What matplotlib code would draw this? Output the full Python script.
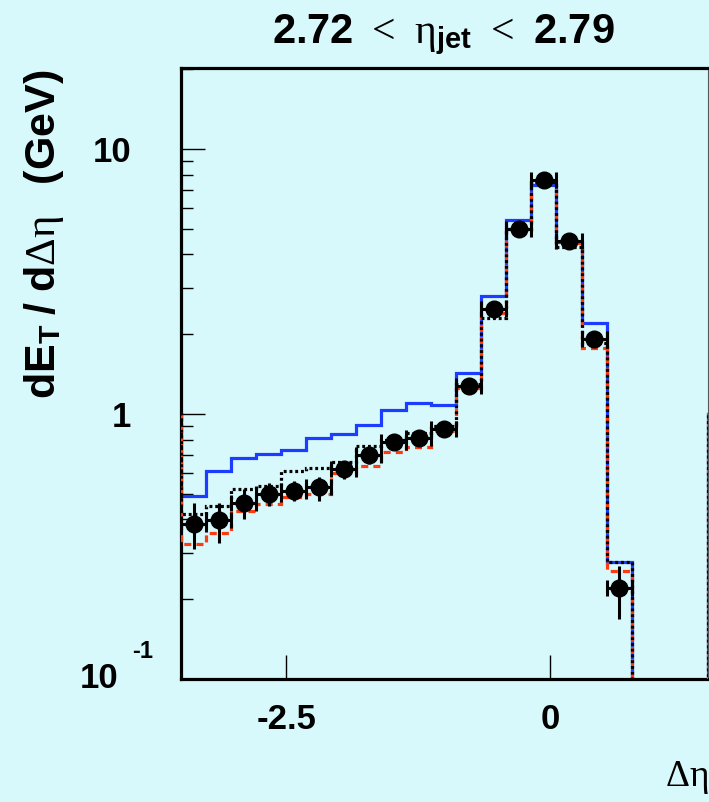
import numpy as np
import matplotlib.pyplot as plt
from matplotlib.ticker import FixedLocator, LogLocator, NullFormatter

plt.rcParams["mathtext.fontset"] = "custom"
plt.rcParams["mathtext.rm"] = "Liberation Serif"
plt.rcParams["mathtext.it"] = "Liberation Serif:italic"
plt.rcParams["mathtext.bf"] = "Liberation Sans:bold"

# bin edges in delta eta (18 bins)
edges = [-3.5, -3.2625, -3.025, -2.7875, -2.55, -2.3125, -2.075, -1.8375, -1.6,
         -1.3625, -1.125, -0.8875, -0.65, -0.4125, -0.175, 0.0625, 0.3, 0.5375, 0.775]

# data points and errors
data = [0.383, 0.397, 0.461, 0.498, 0.512, 0.532, 0.618, 0.700, 0.784, 0.814, 0.880,
        1.275, 2.48, 4.98, 7.62, 4.50, 1.92, 0.22]
data_lo = [0.310, 0.327, 0.400, 0.450, 0.470, 0.470, 0.570, 0.650, 0.740, 0.770, 0.840,
           1.220, 2.30, 4.80, 7.30, 4.20, 1.85, 0.168]
data_hi = [0.460, 0.460, 0.520, 0.550, 0.560, 0.580, 0.660, 0.750, 0.830, 0.860, 0.920,
           1.330, 2.60, 5.20, 7.90, 4.70, 2.00, 0.267]

# model histograms
blue = [0.490, 0.609, 0.680, 0.704, 0.729, 0.810, 0.843, 0.906, 1.033, 1.098, 1.078,
        1.425, 2.79, 5.38, 7.30, 4.45, 2.20, 0.276]
red = [0.323, 0.355, 0.430, 0.459, 0.486, 0.500, 0.600, 0.636, 0.721, 0.750, 0.863,
       1.250, 2.40, 5.00, 7.50, 4.40, 1.78, 0.256]
black = [0.420, 0.450, 0.520, 0.535, 0.609, 0.624, 0.659, 0.757, 0.800, 0.850, 0.900,
         1.300, 2.30, 5.00, 7.50, 4.25, 1.85, 0.276]

# neighbouring bins outside the frame (histograms continue past the axis range)
outer_level = 1.0
gap_level = 1e-3
far_edge = 1.5

bg = "#d8f9fb"
fig = plt.figure(figsize=(7.09, 8.02), dpi=100, facecolor=bg)
ax = fig.add_axes([181 / 709, 123 / 802, 527 / 709, 611 / 802])
ax.set_facecolor(bg)

e = np.array(edges)
w = e[1] - e[0]
ext_edges = np.concatenate([[e[0] - w], e, [far_edge, far_edge + w]])


def ext(v):
    return np.concatenate([[outer_level], v, [gap_level, outer_level]])


ax.stairs(ext(blue), ext_edges, baseline=None, color="#1c3cff", lw=2.3, zorder=2)
ax.stairs(ext(red), ext_edges, baseline=None, color="#ff3a10", lw=2.3,
          linestyle=(0, (2.2, 1.6)), zorder=3)
ax.stairs(ext(black), ext_edges, baseline=None, color="black", lw=2.3,
          linestyle=(0, (0.9, 0.9)), zorder=4)

centers = 0.5 * (e[:-1] + e[1:])
d = np.array(data)
yerr = [d - np.array(data_lo), np.array(data_hi) - d]
ax.errorbar(centers, d, xerr=w / 2, fmt="none", ecolor="black", elinewidth=2.2,
            capsize=6, capthick=2.2, zorder=5)
ax.errorbar(centers, d, yerr=yerr, fmt="o", color="black", ms=12, elinewidth=2.2,
            capsize=0, zorder=6)

ax.set_yscale("log")
ax.set_xlim(-3.5, 1.5)
ax.set_ylim(0.1, 20.2)

ax.set_xticks([-2.5, 0])
ax.set_xticklabels(["-2.5", "0"])
ax.yaxis.set_major_locator(FixedLocator([0.1, 1, 10]))
ax.set_yticklabels(["", "1", "10"])
ax.yaxis.set_minor_locator(LogLocator(base=10, subs=np.arange(2, 10)))
ax.yaxis.set_minor_formatter(NullFormatter())
ax.xaxis.set_minor_locator(FixedLocator([]))

ax.tick_params(axis="both", which="major", direction="in", length=17, width=1,
               top=False, right=False, labelsize=25)
ax.tick_params(axis="y", which="minor", direction="in", length=8.5, width=1, right=False)
ax.tick_params(axis="y", which="major", pad=36)
ax.tick_params(axis="x", which="major", pad=17)
for lab in ax.get_xticklabels() + ax.get_yticklabels():
    lab.set_fontweight("bold")
    lab.set_family("Liberation Sans")

for s in ["left", "bottom", "top"]:
    ax.spines[s].set_linewidth(2.3)
ax.spines["right"].set_linewidth(0.8)
ax.spines["right"].set_color("#555555")

# 10^-1 label, ROOT style
fig.text(118 / 709, 1 - 679 / 802, "10", ha="right", va="center", fontsize=25,
         fontweight="bold", family="Liberation Sans")
fig.text(132 / 709, 1 - 652 / 802, "-1", ha="left", va="center", fontsize=17,
         fontweight="bold", family="Liberation Sans")

fig.text(443 / 709, 1 - 35 / 802,
         r"$\mathbf{2.72}$ $\mathrm{<}$ $\mathrm{\eta}_{\mathbf{jet}}$ $\mathrm{<}$ $\mathbf{2.79}$",
         ha="center", va="center", fontsize=30)
fig.text(44 / 709, 1 - 234 / 802,
         r"$\mathbf{dE}_{\mathbf{T}}\mathbf{\ /\ d}\mathrm{\Delta\eta}\mathbf{\ \ \ (GeV)}$",
         ha="center", va="center", rotation=90, fontsize=31)
fig.text(0.999, 1 - 778 / 802, r"$\mathrm{\Delta\eta}$", ha="right", va="center",
         fontsize=27)

fig.savefig("out.png", dpi=100, facecolor=bg)
